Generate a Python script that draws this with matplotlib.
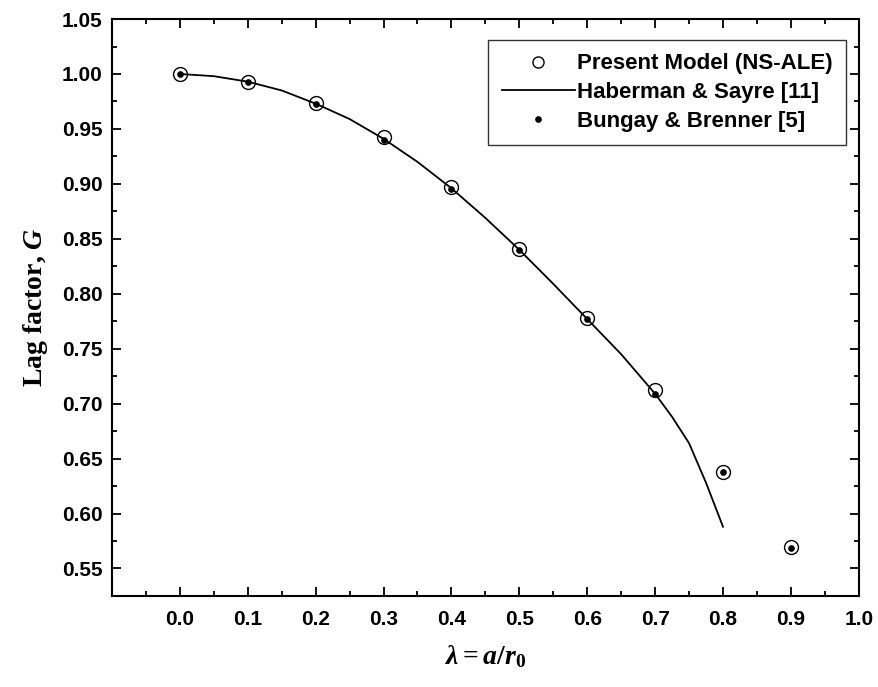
import matplotlib
matplotlib.use('Agg')
import matplotlib.pyplot as plt
from matplotlib.ticker import MultipleLocator, FixedLocator, FormatStrFormatter

plt.rcParams.update({'font.family': 'Liberation Sans', 'font.weight': 'bold',
                     'mathtext.fontset': 'custom',
                     'mathtext.rm': 'Liberation Serif:bold',
                     'mathtext.it': 'Liberation Serif:italic:bold',
                     'mathtext.bf': 'Liberation Serif:bold'})

# data
lam = [0.0, 0.1, 0.2, 0.3, 0.4, 0.5, 0.6, 0.7, 0.8, 0.9]
g_present = [1.000, 0.993, 0.974, 0.943, 0.897, 0.841, 0.778, 0.712, 0.638, 0.570]
g_bungay = [1.000, 0.993, 0.973, 0.940, 0.895, 0.840, 0.777, 0.709, 0.638, 0.569]
lam_hs = [0.0, 0.05, 0.1, 0.15, 0.2, 0.25, 0.3, 0.35, 0.4, 0.45, 0.5, 0.55, 0.6, 0.65, 0.7, 0.725, 0.75, 0.775, 0.8]
g_hs = [1.000, 0.998, 0.993, 0.985, 0.973, 0.959, 0.941, 0.920, 0.896, 0.869, 0.840, 0.809, 0.777, 0.745, 0.709, 0.688, 0.664, 0.628, 0.588]
xticks = [0.0, 0.1, 0.2, 0.3, 0.4, 0.5, 0.6, 0.7, 0.8, 0.9, 1.0]

fig = plt.figure(figsize=(8.79, 6.87), dpi=100)
ax = fig.add_axes([0.1274, 0.1325, 0.977 - 0.1274, 0.9723 - 0.1325])

ax.plot(lam, g_present, 'o', ms=10, mfc='none', mec='black', mew=1.0, label='Present Model (NS-ALE)')
ax.plot(lam_hs, g_hs, '-', color='black', lw=1.3, label='Haberman & Sayre [11]')
ax.plot(lam, g_bungay, 'o', ms=3.8, color='black', label='Bungay & Brenner [5]')

ax.set_xlim(-0.1, 1.0)
ax.set_ylim(0.525, 1.05)
ax.xaxis.set_major_locator(FixedLocator(xticks))
ax.xaxis.set_minor_locator(MultipleLocator(0.05))
ax.yaxis.set_major_locator(MultipleLocator(0.05))
ax.yaxis.set_minor_locator(MultipleLocator(0.025))
ax.xaxis.set_major_formatter(FormatStrFormatter('%.1f'))
ax.yaxis.set_major_formatter(FormatStrFormatter('%.2f'))
ax.tick_params(which='both', direction='in', top=True, right=True, width=1.3)
ax.tick_params(which='major', length=6.5)
ax.tick_params(which='minor', length=3.6)
ax.tick_params(axis='x', which='major', labelsize=15, pad=10)
ax.tick_params(axis='y', which='major', labelsize=15, pad=7)
for s in ax.spines.values():
    s.set_linewidth(1.5)

ax.set_xlabel(r'$\lambda = a/r_{\mathit{0}}$', fontsize=20, labelpad=10)
ax.set_ylabel(r'Lag factor, $\mathit{G}$', fontsize=20, family='Liberation Serif',
              fontweight='bold', labelpad=8)

leg = ax.legend(loc='upper right', bbox_to_anchor=(0.983, 0.9636), prop={'size': 16, 'weight': 'bold'},
                frameon=True, fancybox=False, edgecolor='black', handlelength=3.3,
                handletextpad=0.1, borderpad=0.6, labelspacing=0.35, borderaxespad=0)
leg.get_frame().set_linewidth(1.0)
leg.legend_handles[0].set_markersize(8)

fig.savefig('out.png', dpi=100)
